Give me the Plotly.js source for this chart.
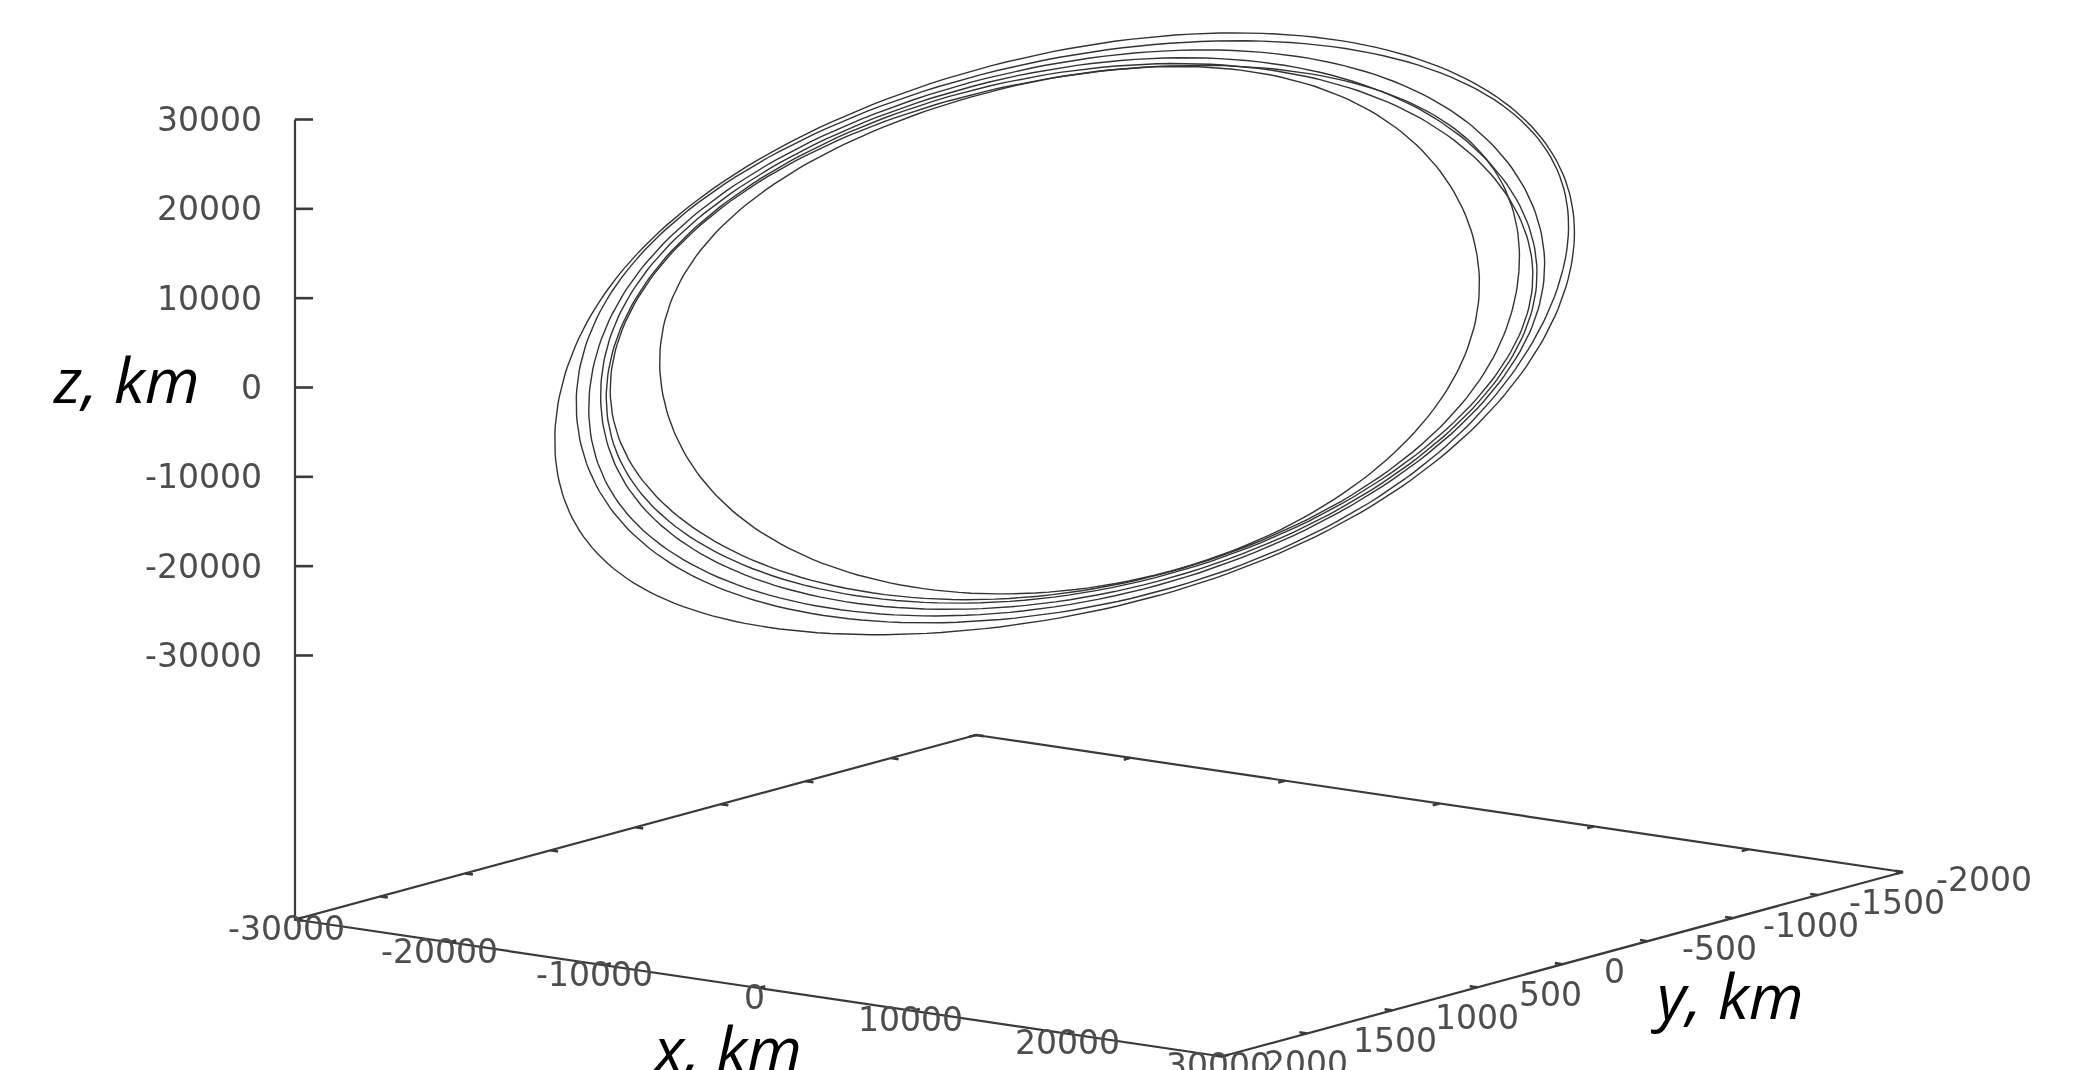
<!DOCTYPE html>
<html>
<head>
<meta charset="utf-8">
<script src="https://cdn.plot.ly/plotly-3.0.1.min.js"></script>
<style>
html,body{margin:0;padding:0;background:#fff;overflow:hidden}
#chart{width:2087px;height:1070px;filter:blur(0.7px)}
</style>
</head>
<body>
<div id="chart"></div>
<script>
// Axis tick values (km)
const xTicks = [-30000,-20000,-10000,0,10000,20000,30000];
const yTicks = [2000,1500,1000,500,0,-500,-1000,-1500,-2000];
const zTicks = [-30000,-20000,-10000,0,10000,20000,30000];

// Orbit revolutions, values in km
const orbitAx = [-24080,-21880,-19820,-15960,-14030,-9260,-6060,3650,10700,17880,25040,27530,28810,25760,24010,23560,20080,16420,12100,7350,-40,-5490,-8430,-16130,-21820,-25020,-24940,-26680,-25570];
const orbitAy = [400,600,700,900,900,1100,1100,1300,1300,1100,900,700,600,200,0,0,-200,-300,-500,-500,-700,-700,-500,-500,-300,-200,0,0,200];
const orbitAz = [-2340,-5550,-9420,-12520,-15040,-16140,-17890,-17610,-15800,-11750,-2900,2720,8560,12420,16850,20870,23750,27540,27970,30880,29960,28340,27510,21850,15840,11400,9100,4190,1830];

const orbitBx = [-27540,-25210,-23280,-19160,-13500,-10290,-650,10700,17880,25040,26250,29140,30410,29500,28330,26700,24250,22910,19560,14220,12100,3750,-7740,-16130,-21430,-24570,-27780,-28280,-28200];
const orbitBy = [400,600,700,900,1100,1100,1300,1300,1100,900,700,700,600,400,200,0,-200,-200,-300,-500,-500,-700,-700,-500,-300,-200,-200,0,200];
const orbitBz = [-5130,-8300,-11760,-14130,-16450,-18640,-19270,-16250,-11970,-3580,-510,3920,8190,11730,15310,18320,21130,25590,28900,30190,31320,30710,27430,22190,17500,13410,7900,4340,-180];

const orbitCx = [-27770,-25130,-20560,-15600,-12390,-8100,1550,10700,20070,25040,29730,30740,32530,32250,31990,30300,25660,20640,14210,9910,3750,-7740,-16130,-23640,-27140,-30330,-29800,-29150];
const orbitCy = [700,900,1100,1300,1300,1300,1500,1300,1300,900,900,700,600,400,200,0,-300,-500,-700,-700,-700,-700,-500,-500,-200,0,200,400];
const orbitCz = [-12130,-16220,-20930,-21990,-23730,-24300,-21920,-18590,-12390,-6480,-1260,3210,10190,14000,19150,23260,28350,31500,32830,34410,34500,30440,24530,18250,12750,5490,1080,-4420];

const orbitDx = [-27860,-25530,-23670,-19680,-14270,-10290,-650,10700,17880,25040,26250,29460,31250,30520,29550,27600,24060,21360,19560,14220,12100,3750,-7740,-16130,-21430,-24700,-27910,-28470,-28330];
const orbitDy = [400,600,700,900,1100,1100,1300,1300,1100,900,700,700,600,400,200,0,-200,-300,-300,-500,-500,-700,-700,-500,-300,-200,-200,0,200];
const orbitDz = [-5210,-8380,-11860,-15040,-16870,-19310,-19940,-16690,-12200,-3910,-1290,4220,8970,11990,15630,18550,23090,25570,27560,28520,29650,31260,27990,22520,17950,13050,7870,4290,10];

const orbitEx = [-26050,-25860,-24120,-20190,-15680,-12470,-8100,-650,10700,17880,25040,26570,29780,31440,30840,29870,27920,24580,22000,20200,15310,12100,3750,-7740,-16130,-21430,-25020,-28230,-28790,-28650,-27740];
const orbitEy = [600,600,700,900,1100,1100,1300,1300,1300,1100,900,700,700,600,400,200,0,-200,-300,-300,-500,-500,-700,-700,-500,-300,-200,-200,0,200,400];
const orbitEz = [-5950,-10140,-12310,-14730,-16670,-19530,-19060,-20940,-17140,-12530,-4470,-1210,4530,8680,12080,15710,18640,22670,25400,28060,28570,30200,32270,28540,22970,18390,13080,8010,4430,480,-2720];

const orbitFx = [-28700,-26630,-25080,-21470,-17160,-13950,-8100,-650,10700,17880,25040,26890,29000,31760,31290,30250,28310,24830,22450,20720,16400,12100,3750,-7740,-16130,-21430,-25340,-28550,-29240,-29100];
const orbitFy = [400,600,700,900,1100,1100,1300,1300,1300,1100,900,700,600,600,400,200,0,-200,-300,-300,-500,-500,-700,-700,-500,-300,-200,-200,0,200];
const orbitFz = [-5420,-9000,-12550,-15840,-17380,-20360,-20400,-21610,-17590,-12870,-5030,-1350,3930,9100,12190,15810,18740,24180,26850,29530,30190,32440,32940,29100,23300,18950,13440,8260,4650,370];

const orbitGx = [-27460,-25910,-22370,-16710,-11750,-8100,-650,10700,20070,25040,29530,30420,32080,31930,31600,29910,25270,20250,13760,3750,-7740,-16130,-21430,-26750,-29880,-29480,-28700];
const orbitGy = [600,700,900,1100,1300,1300,1300,1300,1300,900,900,700,600,400,200,0,-300,-500,-700,-700,-700,-500,-300,-200,0,200,400];
const orbitGz = [-9210,-13210,-16070,-19500,-20000,-21510,-22390,-18030,-11840,-5920,-530,3350,10070,14250,19280,23160,28250,31180,32380,33940,29660,23860,19400,12850,5270,1160,-3530];

// Oblique view: page positions of three base corners and the z scale.
const boxView   = {L:[295,919.5],  B:[976,735],     R:[1903,872],     zTop:119.5, zScale:0.008933};
const orbitView = {L:[295.7,923],  B:[980.6,738.5], R:[1915.7,876.3], zTop:120.4, zScale:0.00896};
const xMin=-30000, xMax=30000, yMin=-2000, yMax=2000, zTopKm=30000;
function zBaseOf(v){return zTopKm-(v.L[1]-v.zTop)/v.zScale;}
const zBase = zBaseOf(boxView);

function project(v,x,y,z){
  const a=(x-xMin)/(xMax-xMin), b=(yMax-y)/(yMax-yMin);
  const ex=[v.R[0]-v.B[0],v.R[1]-v.B[1]];
  const ey=[v.B[0]-v.L[0],v.B[1]-v.L[1]];
  return [v.L[0]+a*ex[0]+b*ey[0], v.L[1]+a*ex[1]+b*ey[1]-(z-zBaseOf(v))*v.zScale];
}

const orbitColor='#333333', axisColor='#3a3a3a', tickText='#4d4d4d';
const traces=[];

// Least-squares smoothing of the hand-read points, so reading noise does not show as wobble.
const fitOrder=4, fitSamples=240;
function basis(t){const b=[1];for(let k=1;k<=fitOrder;k++){b.push(Math.cos(k*t),Math.sin(k*t));}return b;}
function solve(A,r){
  const n=r.length,M=A.map((row,i)=>row.concat([r[i]]));
  for(let c=0;c<n;c++){
    let p=c;for(let i=c+1;i<n;i++)if(Math.abs(M[i][c])>Math.abs(M[p][c]))p=i;
    const tmp=M[c];M[c]=M[p];M[p]=tmp;
    for(let i=0;i<n;i++){if(i===c)continue;const f=M[i][c]/M[c][c];for(let j=c;j<=n;j++)M[i][j]-=f*M[c][j];}
  }
  return M.map((row,i)=>row[n]/row[i]);
}
function orbitTrace(xs,ys,zs,name){
  const pts=xs.map((_,k)=>project(orbitView,xs[k],ys[k],zs[k]));
  const n=pts.length;
  const mx=pts.reduce((s,p)=>s+p[0],0)/n, my=pts.reduce((s,p)=>s+p[1],0)/n;
  let a=0,b=0,c=0;
  pts.forEach(p=>{const u=p[0]-mx,v=p[1]-my;a+=u*u/n;b+=u*v/n;c+=v*v/n;});
  const l11=Math.sqrt(a),l21=b/l11,l22=Math.sqrt(c-l21*l21);
  const ts=pts.map(p=>{const u=(p[0]-mx)/l11;const v=((p[1]-my)-l21*u)/l22;return Math.atan2(v,u);});
  const m=2*fitOrder+1;
  const ATA=Array.from({length:m},()=>new Array(m).fill(0)),ATx=new Array(m).fill(0),ATy=new Array(m).fill(0);
  ts.forEach((t,k)=>{const B=basis(t);
    for(let i=0;i<m;i++){ATx[i]+=B[i]*pts[k][0];ATy[i]+=B[i]*pts[k][1];for(let j=0;j<m;j++)ATA[i][j]+=B[i]*B[j];}
  });
  const cx=solve(ATA,ATx),cy=solve(ATA,ATy);
  const px=[],py=[];
  for(let s=0;s<=fitSamples;s++){
    const B=basis(2*Math.PI*s/fitSamples);
    px.push(B.reduce((q,w,i)=>q+w*cx[i],0));
    py.push(B.reduce((q,w,i)=>q+w*cy[i],0));
  }
  return {x:px,y:py,name:name,type:'scatter',mode:'lines',hoverinfo:'skip',line:{color:orbitColor,width:1.4}};
}
traces.push(orbitTrace(orbitCx,orbitCy,orbitCz,'rev C'));
traces.push(orbitTrace(orbitGx,orbitGy,orbitGz,'rev G'));
traces.push(orbitTrace(orbitFx,orbitFy,orbitFz,'rev F'));
traces.push(orbitTrace(orbitEx,orbitEy,orbitEz,'rev E'));
traces.push(orbitTrace(orbitDx,orbitDy,orbitDz,'rev D'));
traces.push(orbitTrace(orbitBx,orbitBy,orbitBz,'rev B'));
traces.push(orbitTrace(orbitAx,orbitAy,orbitAz,'rev A'));

// Frame: base parallelogram and vertical z axis
const frame=[[xMin,yMax,zBase],[xMax,yMax,zBase],[xMax,yMin,zBase],[xMin,yMin,zBase],[xMin,yMax,zBase],[xMin,yMax,zTopKm]];
const fp=frame.map(c=>project(boxView,c[0],c[1],c[2]));
traces.push({x:fp.map(p=>p[0]),y:fp.map(p=>p[1]),type:'scatter',mode:'lines',hoverinfo:'skip',
             line:{color:axisColor,width:2.2}});

// Tick marks
const tx=[],ty=[];
function seg(a,b){tx.push(a[0],b[0],null);ty.push(a[1],b[1],null);}
const xTickLen=40, yTickLen=500, zTickLen=18;
xTicks.forEach(v=>{
  seg(project(boxView,v,yMax,zBase),project(boxView,v,yMax-xTickLen,zBase));
  seg(project(boxView,v,yMin,zBase),project(boxView,v,yMin+xTickLen,zBase));
});
yTicks.forEach(v=>{
  seg(project(boxView,xMin,v,zBase),project(boxView,xMin+yTickLen,v,zBase));
  seg(project(boxView,xMax,v,zBase),project(boxView,xMax-yTickLen,v,zBase));
});
zTicks.forEach(v=>{
  const p=project(boxView,xMin,yMax,v);
  seg(p,[p[0]+zTickLen,p[1]]);
});
traces.push({x:tx,y:ty,type:'scatter',mode:'lines',hoverinfo:'skip',line:{color:axisColor,width:2.6}});

// Tick labels
const annotations=[];
const labelFont={family:'DejaVu Sans',size:33,color:tickText};
function label(text,p,dx,dy,anchor){
  annotations.push({xref:'x',yref:'y',x:p[0]+dx,y:p[1]+dy,text:text,showarrow:false,
    xanchor:anchor||'center',yanchor:'middle',font:labelFont});
}
const xShift=[-9,-10,-10,-4,-3,0,-4];
xTicks.forEach((v,i)=>label(String(v),project(boxView,v,yMax,zBase),xShift[i],9));
const yShift=[84,88,85,73,52,72,78,79,81];
yTicks.forEach((v,i)=>label(String(v),project(boxView,xMax,v,zBase),yShift[i],7));
zTicks.forEach(v=>label(String(v),project(boxView,xMin,yMax,v),-31,0,'right'));

// Axis titles
const titleFont={family:'Open Sans',size:63,color:'#000000',style:'italic'};
function title(text,cx,cy){
  annotations.push({xref:'x',yref:'y',x:cx,y:cy,text:text,showarrow:false,xanchor:'center',yanchor:'middle',font:titleFont});
}
title('z, km',126,378);
title('x, km',726,1047);
title('y, km',1727,994);

const layout={
  width:2087,height:1070,margin:{l:0,r:0,t:0,b:0},
  paper_bgcolor:'#ffffff',plot_bgcolor:'#ffffff',showlegend:false,
  xaxis:{range:[0,2087],visible:false,fixedrange:true},
  yaxis:{range:[1070,0],visible:false,fixedrange:true},
  annotations:annotations
};
Plotly.newPlot('chart',traces,layout,{displayModeBar:false,staticPlot:true});
</script>
</body>
</html>
